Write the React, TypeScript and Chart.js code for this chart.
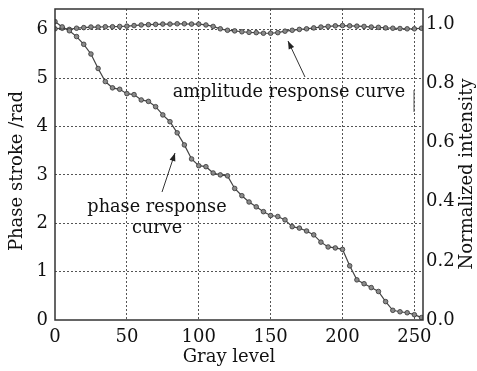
import React, { useEffect, useRef } from "react";
import { Chart, registerables } from "chart.js";

Chart.register(...registerables);

const grayLevels = [
  0, 5, 10, 15, 20, 25, 30, 35, 40, 45, 50, 55, 60, 65, 70, 75, 80, 85, 90, 95,
  100, 105, 110, 115, 120, 125, 130, 135, 140, 145, 150, 155, 160, 165, 170, 175,
  180, 185, 190, 195, 200, 205, 210, 215, 220, 225, 230, 235, 240, 245, 250, 255,
];

const phaseStroke = [
  6.17, 6.06, 5.98, 5.86, 5.7, 5.5, 5.2, 4.93, 4.8, 4.77, 4.68, 4.66, 4.55, 4.52,
  4.41, 4.24, 4.1, 3.87, 3.62, 3.33, 3.19, 3.17, 3.04, 3.0, 2.98, 2.72, 2.57, 2.44,
  2.34, 2.24, 2.16, 2.14, 2.07, 1.93, 1.9, 1.84, 1.76, 1.61, 1.51, 1.49, 1.46, 1.12,
  0.83, 0.75, 0.67, 0.59, 0.38, 0.2, 0.17, 0.15, 0.11, 0.05,
];

const amplitude = [
  0.985, 0.987, 0.983, 0.987, 0.989, 0.991, 0.991, 0.992, 0.992, 0.993, 0.994,
  0.996, 0.998, 0.999, 1.0, 1.001, 1.001, 1.002, 1.002, 1.001, 1.001, 0.998, 0.993,
  0.985, 0.98, 0.978, 0.975, 0.973, 0.972, 0.97, 0.97, 0.972, 0.977, 0.98, 0.983,
  0.985, 0.988, 0.991, 0.993, 0.995, 0.996, 0.995, 0.994, 0.993, 0.991, 0.99, 0.988,
  0.987, 0.986, 0.985, 0.985, 0.987,
];

const xTicks = [0, 50, 100, 150, 200, 250];
const yLeftTicks = [0, 1, 2, 3, 4, 5, 6];
const yRightTicks = [0, 0.2, 0.4, 0.6, 0.8, 1.0];

const FONT = "'DejaVu Serif', 'Liberation Serif', serif";
const INK = "#111";

const framePlugin = {
  id: "frameAndNotes",
  afterDraw(chart: any) {
    const { ctx, chartArea } = chart;
    const { left, top, right, bottom } = chartArea;
    ctx.save();
    ctx.strokeStyle = "#333";
    ctx.lineWidth = 1.5;
    ctx.setLineDash([]);
    ctx.strokeRect(left, top, right - left, bottom - top);

    ctx.fillStyle = INK;
    ctx.font = `17.7px ${FONT}`;
    ctx.textAlign = "center";
    ctx.textBaseline = "middle";
    ctx.fillText("amplitude response curve", 289, 92);
    ctx.fillText("phase response", 157, 207);
    ctx.fillText("curve", 157, 228);

    const arrow = (x1: number, y1: number, x2: number, y2: number) => {
      ctx.strokeStyle = "#333";
      ctx.fillStyle = "#222";
      ctx.lineWidth = 1;
      ctx.beginPath();
      ctx.moveTo(x1, y1);
      ctx.lineTo(x2, y2);
      ctx.stroke();
      const a = Math.atan2(y2 - y1, x2 - x1);
      const L = 8;
      const W = 3;
      ctx.beginPath();
      ctx.moveTo(x2, y2);
      ctx.lineTo(x2 - L * Math.cos(a) + W * Math.sin(a), y2 - L * Math.sin(a) - W * Math.cos(a));
      ctx.lineTo(x2 - L * Math.cos(a) - W * Math.sin(a), y2 - L * Math.sin(a) + W * Math.cos(a));
      ctx.closePath();
      ctx.fill();
    };
    arrow(305, 77, 288, 41);
    arrow(162, 192, 175, 153);

    ctx.strokeStyle = "#555";
    ctx.lineWidth = 1;
    ctx.beginPath();
    ctx.moveTo(414, 90);
    ctx.lineTo(414, 112);
    ctx.stroke();

    ctx.fillStyle = INK;
    ctx.font = `18px ${FONT}`;
    ctx.textAlign = "center";
    ctx.textBaseline = "middle";
    ctx.fillText("Gray level", 229, 357);

    ctx.save();
    ctx.translate(17, 171);
    ctx.rotate(-Math.PI / 2);
    ctx.fillText("Phase stroke /rad", 0, 0);
    ctx.restore();

    ctx.save();
    ctx.translate(467, 174);
    ctx.rotate(-Math.PI / 2);
    ctx.fillText("Normalized intensity", 0, 0);
    ctx.restore();

    ctx.restore();
  },
};

export default function App() {
  const ref = useRef<HTMLCanvasElement>(null);

  useEffect(() => {
    document.body.style.margin = "0";
    const canvas = ref.current!;
    const noPad = (s: any) => {
      s.paddingTop = 0;
      s.paddingBottom = 0;
      s.paddingLeft = 0;
      s.paddingRight = 0;
    };
    const chart = new Chart(canvas, {
      type: "line",
      data: {
        datasets: [
          {
            label: "phase",
            data: grayLevels.map((g, i) => ({ x: g, y: phaseStroke[i] })),
            yAxisID: "y",
            borderColor: "#444",
            borderWidth: 1.2,
            pointRadius: 2.3,
            pointBackgroundColor: "#8a8a8a",
            pointBorderColor: "#333",
            pointBorderWidth: 0.8,
            tension: 0,
          },
          {
            label: "amplitude",
            data: grayLevels.map((g, i) => ({ x: g, y: amplitude[i] })),
            yAxisID: "y2",
            borderColor: "#444",
            borderWidth: 1.2,
            pointRadius: 2.3,
            pointBackgroundColor: "#8a8a8a",
            pointBorderColor: "#333",
            pointBorderWidth: 0.8,
            tension: 0,
          },
        ],
      },
      options: {
        animation: false,
        responsive: false,
        maintainAspectRatio: false,
        layout: { padding: { top: 9, left: 0, right: 0, bottom: 0 } },
        plugins: { legend: { display: false }, tooltip: { enabled: false } },
        scales: {
          x: {
            type: "linear",
            min: 0,
            max: 256,
            afterBuildTicks: (s: any) => {
              s.ticks = xTicks.map((v) => ({ value: v }));
            },
            afterFit: (s: any) => {
              s.height = 51;
              noPad(s);
            },
            grid: {
              color: (c: any) => (c.tick && c.tick.value > 0 && c.tick.value < 256 ? "#555" : "rgba(0,0,0,0)"),
              lineWidth: 1,
              drawTicks: false,
            },
            border: { display: false, dash: [2, 2] },
            ticks: {
              color: INK,
              font: { family: FONT, size: 18 },
              padding: 7,
              maxRotation: 0,
              autoSkip: false,
            },
          },
          y: {
            type: "linear",
            position: "left",
            min: 0,
            max: 6.43,
            afterBuildTicks: (s: any) => {
              s.ticks = yLeftTicks.map((v) => ({ value: v }));
            },
            afterFit: (s: any) => {
              s.width = 55;
              noPad(s);
            },
            grid: {
              color: (c: any) => (c.tick && c.tick.value > 0 ? "#555" : "rgba(0,0,0,0)"),
              lineWidth: 1,
              drawTicks: false,
            },
            border: { display: false, dash: [2, 2] },
            ticks: {
              color: INK,
              font: { family: FONT, size: 18 },
              padding: 7,
            },
          },
          y2: {
            type: "linear",
            position: "right",
            min: 0,
            max: 1.052,
            afterBuildTicks: (s: any) => {
              s.ticks = yRightTicks.map((v) => ({ value: v }));
            },
            afterFit: (s: any) => {
              s.width = 54;
              noPad(s);
            },
            grid: { display: false, drawTicks: false },
            border: { display: false },
            ticks: {
              color: INK,
              font: { family: FONT, size: 18 },
              padding: 3,
              callback: (v: any) => Number(v).toFixed(1),
            },
          },
        },
      },
      plugins: [framePlugin],
    });
    return () => chart.destroy();
  }, []);

  return (
    <div style={{ width: 477, height: 371, background: "#fff" }}>
      <canvas ref={ref} width={477} height={371} style={{ display: "block" }} />
    </div>
  );
}
